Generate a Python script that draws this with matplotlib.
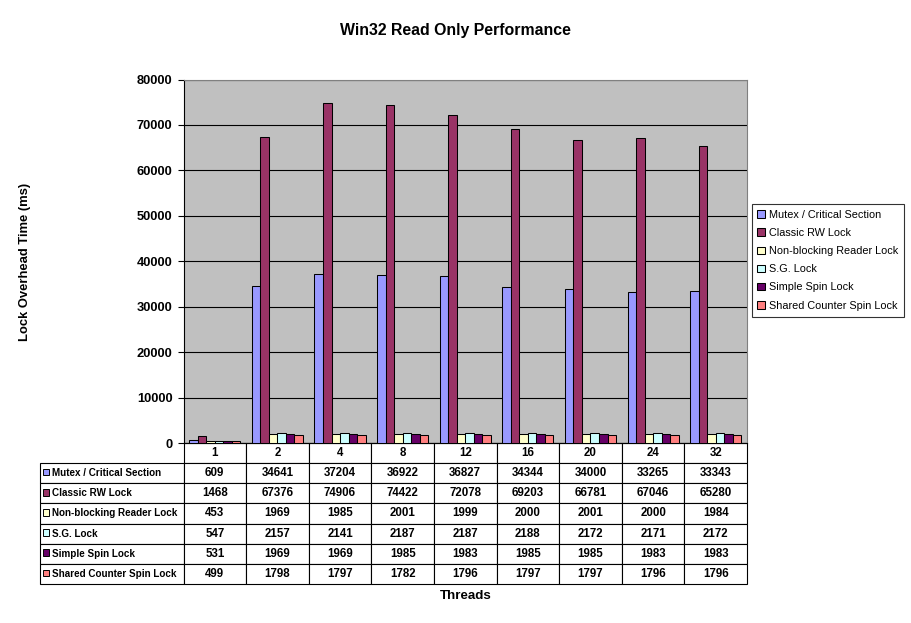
import numpy as np
import matplotlib
matplotlib.use('Agg')
from matplotlib import pyplot as plt
from matplotlib.patches import Rectangle

plt.rcParams['font.family'] = ['Liberation Sans', 'DejaVu Sans']

threads = ['1', '2', '4', '8', '12', '16', '20', '24', '32']
series_names = ['Mutex / Critical Section', 'Classic RW Lock', 'Non-blocking Reader Lock',
                'S.G. Lock', 'Simple Spin Lock', 'Shared Counter Spin Lock']
mutex = [609, 34641, 37204, 36922, 36827, 34344, 34000, 33265, 33343]
classic_rw = [1468, 67376, 74906, 74422, 72078, 69203, 66781, 67046, 65280]
non_blocking = [453, 1969, 1985, 2001, 1999, 2000, 2001, 2000, 1984]
sg_lock = [547, 2157, 2141, 2187, 2187, 2188, 2172, 2171, 2172]
simple_spin = [531, 1969, 1969, 1985, 1983, 1985, 1985, 1983, 1983]
shared_counter = [499, 1798, 1797, 1782, 1796, 1797, 1797, 1796, 1796]
series = [mutex, classic_rw, non_blocking, sg_lock, simple_spin, shared_counter]
colors = ['#9999FF', '#993366', '#FFFFCC', '#CCFFFF', '#660066', '#FF8080']

W, H = 911, 623
fig = plt.figure(figsize=(W / 100, H / 100), dpi=100)
ax_l, ax_r, ax_t, ax_b = 183.5, 747, 79.5, 443
ax = fig.add_axes([ax_l / W, 1 - ax_b / H, (ax_r - ax_l) / W, (ax_b - ax_t) / H])
ax.set_facecolor('#C0C0C0')

x = np.arange(len(threads))
bw = 0.136
bars = []
for k, (vals, col) in enumerate(zip(series, colors)):
    b = ax.bar(x + (k - 2.5) * bw, vals, bw, color=col, edgecolor='black',
               linewidth=0.75, zorder=3, label=series_names[k])
    bars.append(b)

ax.set_xlim(-0.5, len(threads) - 0.5)
ax.set_ylim(0, 80000)
ax.set_yticks(range(0, 80001, 10000))
ax.yaxis.grid(True, color='black', linewidth=0.8, zorder=1)
ax.set_axisbelow(True)
ax.set_xticks([])
ax.tick_params(axis='y', direction='out', length=4, width=0.8, pad=4, labelsize=9.3)
for lab in ax.get_yticklabels():
    lab.set_fontweight('bold')
ax.spines['top'].set_color('#808080')
ax.spines['right'].set_color('#808080')
ax.spines['left'].set_color('black')
ax.spines['bottom'].set_color('black')
for s in ax.spines.values():
    s.set_linewidth(0.8)

# data table under the plot
cell_text = []
for name, vals in zip(series_names, series):
    cell_text.append([name] + [str(v) for v in vals])
col_labels = [''] + threads
lab_w = ax_l - 40
col_w = (ax_r - ax_l) / len(threads)
widths = [lab_w] + [col_w] * len(threads)
tab = ax.table(cellText=cell_text, colLabels=col_labels, colWidths=widths,
               cellLoc='center', colLoc='center',
               bbox=[(40 - ax_l) / (ax_r - ax_l), (ax_b - 584) / (ax_b - ax_t),
                     (ax_r - 40) / (ax_r - ax_l), (584 - ax_b) / (ax_b - ax_t)])
tab.auto_set_font_size(False)
tab.set_fontsize(8.3)
for (r, c), cell in tab.get_celld().items():
    cell.set_linewidth(0.8)
    cell.set_facecolor('white')
    cell.get_text().set_fontweight('bold')
    if r == 0 and c == 0:
        cell.visible_edges = 'open'
    if c == 0 and r > 0:
        cell.get_text().set_horizontalalignment('left')
        cell.get_text().set_fontsize(7.1)
        cell.PAD = 11.5 / lab_w

# colour keys in the label column
row_h = (584 - 443) / (len(series_names) + 1)
for i, col in enumerate(colors):
    cy = 443 + row_h * (i + 1.5) - 1
    ax.add_patch(Rectangle(((42.5 - ax_l) / (ax_r - ax_l), (ax_b - cy - 3.2) / (ax_b - ax_t)),
                           6.5 / (ax_r - ax_l), 6.5 / (ax_b - ax_t),
                           transform=ax.transAxes, facecolor=col, edgecolor='black',
                           linewidth=0.7, clip_on=False, zorder=5))

leg = fig.legend(handles=bars, labels=series_names, loc='upper left',
                 bbox_to_anchor=(751.5 / W, 1 - 204 / H), fontsize=7.8,
                 frameon=True, fancybox=False, edgecolor='black', handlelength=0.7,
                 handleheight=0.7, handletextpad=0.35, labelspacing=0.75,
                 borderpad=0.55, borderaxespad=0)
leg.get_frame().set_linewidth(0.8)

fig.text(455 / W, 1 - 31 / H, 'Win32 Read Only Performance', ha='center', va='center',
         fontsize=11.4, fontweight='bold')
fig.text(25 / W, 1 - 262 / H, 'Lock Overhead Time (ms)', ha='center', va='center',
         rotation=90, fontsize=9.4, fontweight='bold')
fig.text(466 / W, 1 - 596 / H, 'Threads', ha='center', va='center',
         fontsize=9.6, fontweight='bold')

fig.savefig('out.png', dpi=100)
